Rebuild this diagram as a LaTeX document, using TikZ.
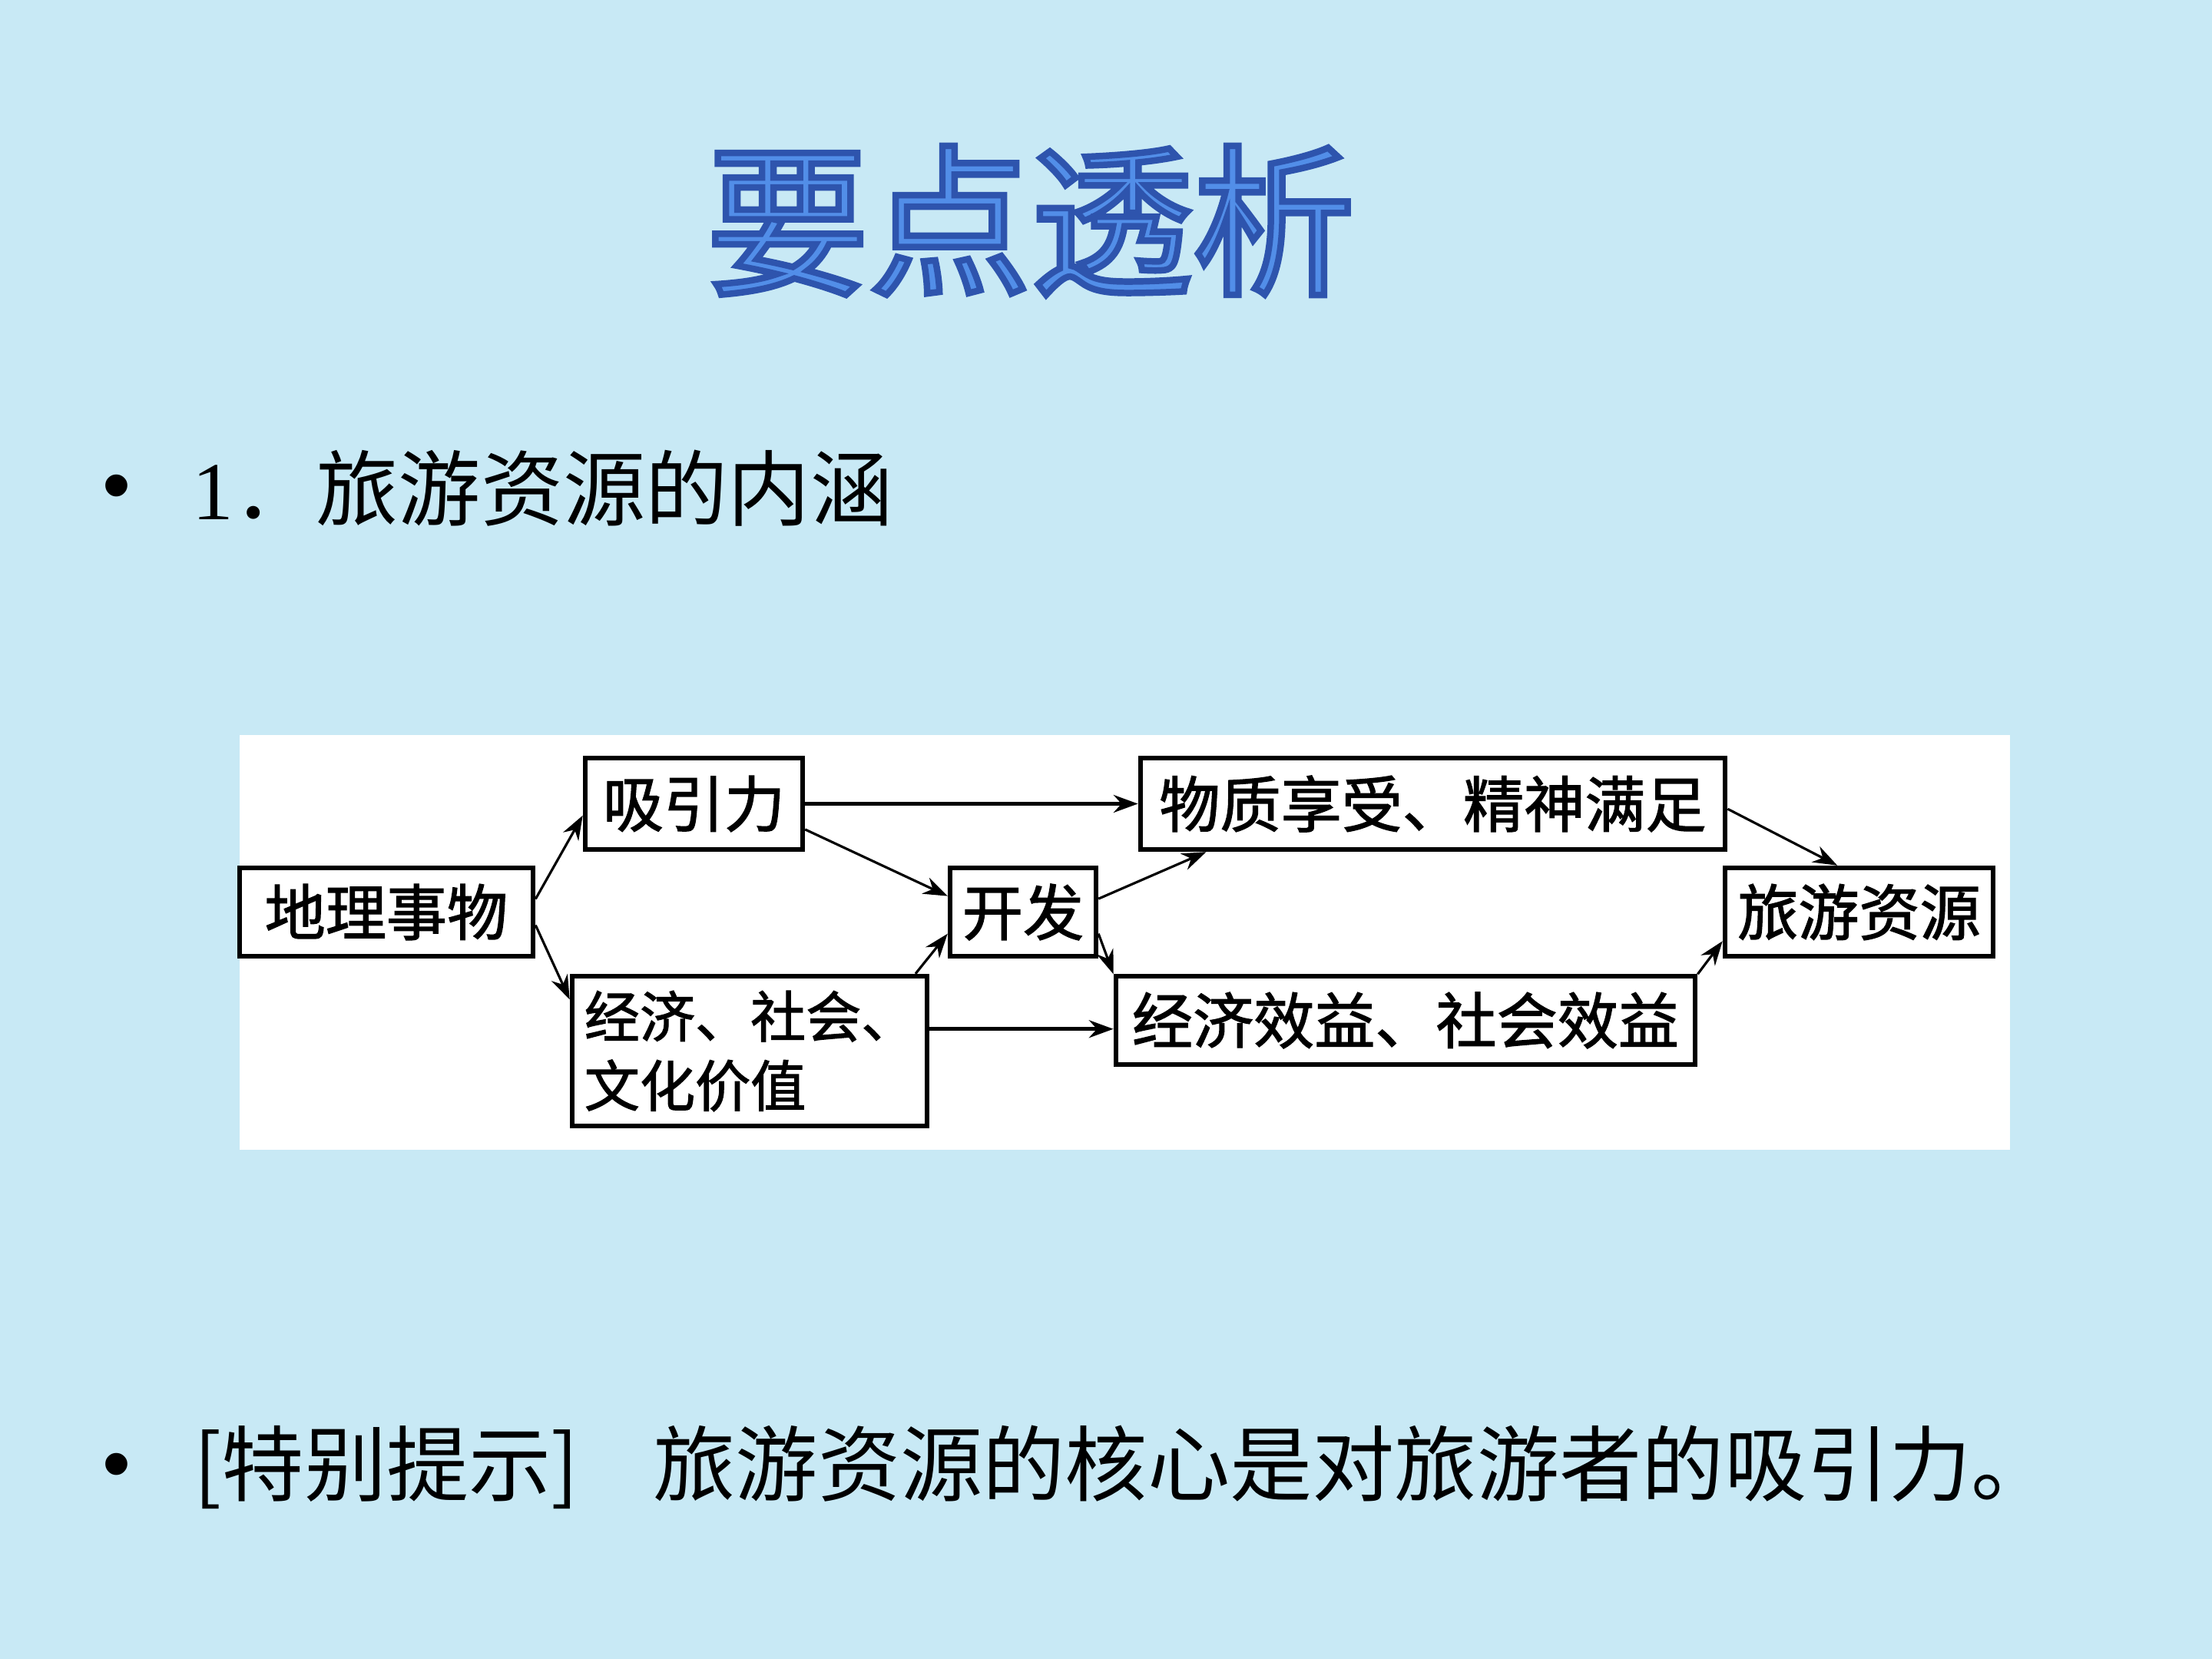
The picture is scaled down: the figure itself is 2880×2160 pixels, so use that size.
\documentclass[tikz,border=0pt]{standalone}
\usepackage{fontspec}
\usepackage{tikz}
\usetikzlibrary{arrows.meta}
\setmainfont{Noto Sans CJK SC}
\newfontfamily\cjk{Noto Sans CJK SC}
\newfontfamily\boxfont[FakeBold=1.6]{Noto Sans CJK SC}
\newfontfamily\titlefont[FakeBold=4]{Noto Sans CJK SC}
\newfontfamily\latinserif{Liberation Serif}
\newfontfamily\latinsans{Liberation Sans}
\definecolor{bgblue}{RGB}{200,233,245}
\definecolor{titleblue}{RGB}{82,142,232}
\tikzset{
  box/.style={draw, line width=1.8pt, fill=white, inner sep=0pt,
    font={\boxfont\fontsize{22.5}{27}\selectfont}},
  link/.style={->, line width=0.9pt},
  mainlink/.style={->, line width=1.4pt},
  bullet/.style={inner sep=0pt, font={\latinsans\fontsize{30}{30}\selectfont}},
  bodytext/.style={anchor=west, inner sep=0pt, font={\cjk\fontsize{30.5}{35}\selectfont}},
}

\begin{document}
\begin{tikzpicture}[x=0.01cm, y=-0.01cm, >={Stealth[length=9pt,width=6.5pt]}]
        % Background
        \fill[bgblue] (0,0) rectangle (2880,2160);
        \useasboundingbox (0,0) rectangle (2880,2160);

        % Title
        \node[text=titleblue, font={\titlefont\fontsize{60}{60}\selectfont}] (title) at (1342,287)
            {\special{pdf:code 0.18 0.33 0.68 RG}要点透析};

        % First bullet
        \node[bullet] (dot1) at (152,643) {•};
        \node[bodytext] (head) at (250,636) {{\latinserif 1}．旅游资源的内涵};

        % White panel
        \fill[white] (312,957) rectangle (2617,1497);

        % Boxes
        \node[box, minimum width=3.82cm, minimum height=1.15cm] (geo) at (503,1187.5) {地理事物};
        \node[box, minimum width=2.83cm, minimum height=1.19cm] (attr) at (903.5,1046.5) {吸引力};
        \node[box, minimum height=1.95cm, inner xsep=0.16cm, text width=4.30cm, align=left,
            font={\boxfont\fontsize{20.5}{25.6}\selectfont}] (value) at (976,1368.5)
            {经济、社会、\\文化价值};
        \node[box, minimum width=1.90cm, minimum height=1.15cm] (dev) at (1332,1187.5) {开发};
        \node[box, minimum width=7.61cm, minimum height=1.19cm] (enjoy) at (1865.5,1046.5) {物质享受、精神满足};
        \node[box, minimum width=7.54cm, minimum height=1.15cm] (benefit) at (1830,1328.5) {经济效益、社会效益};
        \node[box, minimum width=3.49cm, minimum height=1.15cm] (res) at (2420.5,1187.5) {旅游资源};

        % Arrows
        \draw[link] (geo.5) -- (attr.186);
        \draw[link] (geo.-5) -- (value.164);
        \draw[link] (attr.-13) -- (dev.168);
        \draw[mainlink] (attr) -- (enjoy);
        \draw[link] (value.25) -- (dev.196);
        \draw[mainlink] (value.7) -- (value.7 -| benefit.west);
        \draw[link] (dev.10) -- (enjoy.192);
        \draw[link] (dev.-16) -- (benefit.171);
        \draw[link] (enjoy.-1) -- (res.115);
        \draw[link] (benefit.9) -- (res.192);

        % Second bullet
        \node[bullet] (dot2) at (152,1917) {•};
        \node[bodytext] (tip) at (252,1910) {[特别提示]\hspace{0.9em}旅游资源的核心是对旅游者的吸引力。};
\end{tikzpicture}
\end{document}
